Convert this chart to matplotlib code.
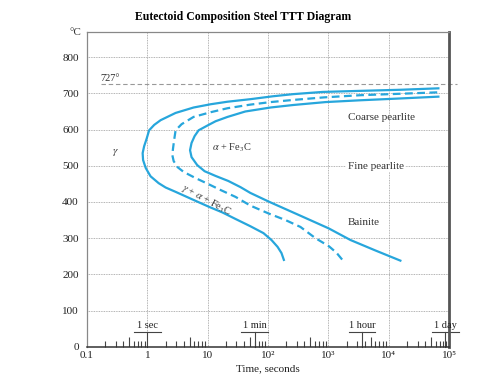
import numpy as np
import matplotlib
matplotlib.use('Agg')
import matplotlib.pyplot as plt
from matplotlib.ticker import LogLocator
import matplotlib.transforms as mtransforms

plt.rcParams['font.family'] = ['Liberation Serif', 'DejaVu Serif']
plt.rcParams['mathtext.fontset'] = 'stix'

# curve data (time in s, temperature in degC)
start_t = [183, 167, 144, 114, 84, 51, 29, 17.6, 10.4, 5.6, 2.94, 2.01, 1.54, 1.13, 0.94, 0.85,
           0.836, 0.885, 0.97, 1.07, 1.3, 1.66, 2.94, 5.84, 11.2, 21.3, 51, 120, 264, 800, 3400,
           15600, 66500]
start_T = [240, 259, 276, 295, 314, 333, 353, 371, 387, 407, 428, 440, 452, 471, 494, 516,
           535, 554, 574, 598, 613, 626, 646, 661, 670, 677, 684, 692, 698, 704, 707,
           710, 714]

half_t = [1690, 1360, 1016, 611, 345, 195, 103, 51, 29, 16.4, 10.4, 6.3, 4.0, 3.18, 2.73, 2.59,
          2.67, 2.78, 2.94, 3.7, 5.84, 11.2, 21.3, 51, 110, 264, 850, 3400, 15600, 66500]
half_T = [241, 260, 278, 300, 331, 350, 368, 390, 414, 433, 449, 466, 483, 496, 513, 530,
          549, 571, 598, 615, 635, 648, 659, 669, 676, 682, 689, 695, 699, 703]

finish_t = [15600, 6030, 2320, 1016, 345, 103, 51, 35, 22, 13.5, 8.9, 6.7, 5.4, 5.1, 5.4, 6.07,
            7.07, 9.85, 13.5, 21.3, 42, 110, 264, 900, 3400, 15600, 66500]
finish_T = [238, 266, 295, 327, 362, 401, 425, 441, 458, 472, 485, 502, 524, 543, 563, 582,
            598, 611, 623, 635, 650, 661, 668, 676, 681, 686, 691]

eutectoid_T = 727

decades = [0.1, 1, 10, 100, 1000, 10000, 100000]
decade_labels = ['0.1', '1', '10', '10²', '10³', '10⁴', '10⁵']
temp_ticks = [0, 100, 200, 300, 400, 500, 600, 700, 800]
half_decades = [0.5, 5, 50, 500, 5000, 50000]

mark_t = [1, 60, 3600, 86400]
mark_labels = ['1 sec', '1 min', '1 hour', '1 day']

curve_color = '#27a6dc'

fig = plt.figure(figsize=(4.86, 3.79), dpi=100)
ax = fig.add_axes([0.179, 0.085, 0.745, 0.83])

ax.plot(start_t, start_T, color=curve_color, lw=1.6, solid_joinstyle='round')
ax.plot(half_t, half_T, color=curve_color, lw=1.6, linestyle=(0, (3.5, 2)))
ax.plot(finish_t, finish_T, color=curve_color, lw=1.6, solid_joinstyle='round')

ax.set_xscale('log')
ax.set_xlim(0.1, 1e5)
ax.set_ylim(0, 869)

# 727 line
ax.plot([0.17, 1.35e5], [eutectoid_T, eutectoid_T], color='#999999', lw=0.8,
        linestyle=(0, (4, 2.5)), clip_on=False, zorder=1)
ax.text(0.165, 742, '727°', fontsize=7.5, color='#333333', ha='left', va='center')

ax.set_xticks(decades)
ax.set_xticklabels(decade_labels)
ax.xaxis.set_minor_locator(LogLocator(base=10, subs=[2, 3, 4, 6, 7, 8, 9]))
ax.xaxis.set_minor_formatter(plt.NullFormatter())
ax.set_yticks(temp_ticks)
ax.tick_params(axis='x', which='major', length=0, pad=3, labelsize=8, colors='#222222')
ax.tick_params(axis='x', which='minor', direction='in', length=4.5, width=0.8, color='#444444')
ax.tick_params(axis='y', length=0, pad=6, labelsize=8, colors='#222222')

trans = mtransforms.blended_transform_factory(ax.transData, ax.transAxes)
ax.vlines(half_decades, 0, 0.03, transform=trans, color='#444444', lw=0.8)

ax.grid(True, which='major', color='#9a9a9a', lw=0.6, linestyle=(0, (1, 1)))
ax.set_axisbelow(True)

# time markers
for t, lab in zip(mark_t, mark_labels):
    ax.plot([t, t], [0, 41], color='#444444', lw=0.8, clip_on=False)
    ax.plot([t / 10**0.22, t * 10**0.22], [41, 41], color='#444444', lw=0.8, clip_on=False)
    ax.text(t, 45, lab, fontsize=7.5, ha='center', va='bottom', color='#222222')

ax.text(2075, 634, 'Coarse pearlite', fontsize=8, ha='left', va='center', color='#333333')
ax.text(2075, 499, 'Fine pearlite', fontsize=8, ha='left', va='center', color='#333333',
        bbox=dict(facecolor='white', edgecolor='none', pad=1))
ax.text(2075, 342, 'Bainite', fontsize=8, ha='left', va='center', color='#333333')
ax.text(0.30, 538, r'$\gamma$', fontsize=8, ha='center', va='center', color='#333333')
ax.text(12, 549, r'$\alpha$ + Fe$_3$C', fontsize=7.5, ha='left', va='center', color='#333333')
ax.text(9.6, 406, r'$\gamma$ + $\alpha$ + Fe$_3$C', fontsize=7.5, ha='center', va='center',
        color='#333333', rotation=-28, rotation_mode='anchor')

ax.text(-0.015, 1.0, '°C', transform=ax.transAxes, fontsize=8, ha='right', va='center', color='#333333')

for side in ['top', 'left']:
    ax.spines[side].set_color('#888888')
    ax.spines[side].set_linewidth(0.9)
ax.spines['bottom'].set_color('#333333')
ax.spines['bottom'].set_linewidth(1.1)
ax.spines['right'].set_color('#555555')
ax.spines['right'].set_linewidth(2)

ax.set_xlabel('Time, seconds', fontsize=8, labelpad=3, color='#222222')
fig.text(0.5, 0.955, 'Eutectoid Composition Steel TTT Diagram', fontsize=8.5,
         fontweight='bold', ha='center', va='center')

fig.savefig('out.png', dpi=100)
